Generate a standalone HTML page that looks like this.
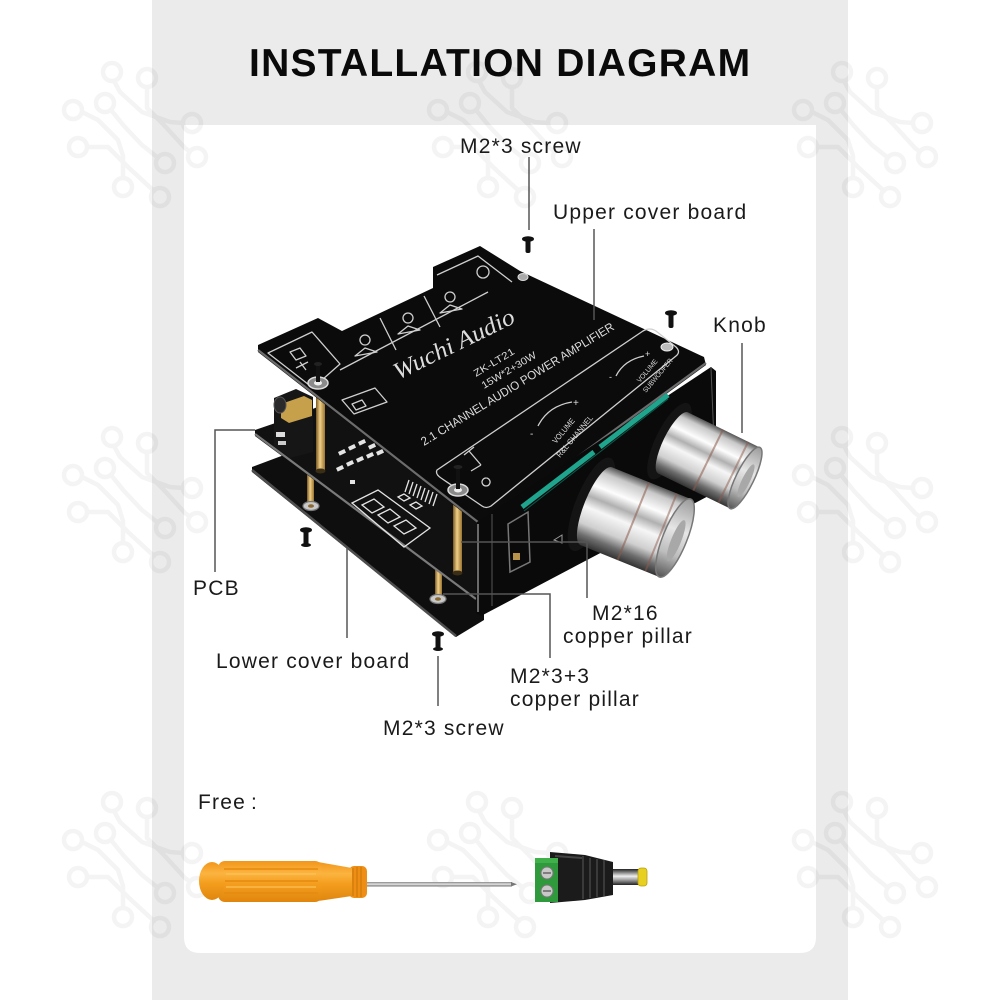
<!DOCTYPE html>
<html><head><meta charset="utf-8">
<style>
html,body{margin:0;padding:0;background:#fff;}
svg{display:block;}
</style></head>
<body>
<svg width="1000" height="1000" viewBox="0 0 1000 1000" xmlns="http://www.w3.org/2000/svg" font-family="'Liberation Sans', sans-serif">
<defs>
  <g id="circ">
    <g fill="none" stroke="#000" stroke-width="4.5" stroke-linejoin="round" stroke-linecap="round">
      <circle cx="52" cy="12" r="9"/><circle cx="87" cy="18" r="9"/><circle cx="45" cy="43" r="9"/>
      <circle cx="13" cy="50" r="9"/><circle cx="132" cy="63" r="9"/><circle cx="18" cy="87" r="9"/>
      <circle cx="137" cy="97" r="9"/><circle cx="105" cy="103" r="9"/><circle cx="63" cy="127" r="9"/>
      <circle cx="100" cy="137" r="9"/>
      <path d="M54,21 L60,32 L82,52 L110,62 L123,63"/>
      <path d="M87,27 L87,48 L103,64 L125,88 L129,91"/>
      <path d="M51,50 L64,66 L82,85 L97,97"/>
      <path d="M22,52 L38,60 L58,80 L63,96 L63,118"/>
      <path d="M27,87 L48,87 L68,107 L94,131"/>
    </g>
  </g>
  <linearGradient id="chrome" x1="0" y1="0" x2="0" y2="1">
    <stop offset="0" stop-color="#555"/>
    <stop offset="0.1" stop-color="#c8c8c8"/>
    <stop offset="0.28" stop-color="#fdfdfd"/>
    <stop offset="0.42" stop-color="#b0b0b0"/>
    <stop offset="0.55" stop-color="#f6f6f6"/>
    <stop offset="0.75" stop-color="#cfcfcf"/>
    <stop offset="0.88" stop-color="#6d6d6d"/>
    <stop offset="1" stop-color="#333"/>
  </linearGradient>
  <linearGradient id="face" x1="0" y1="0" x2="0" y2="1">
    <stop offset="0" stop-color="#9a9a9a"/>
    <stop offset="0.4" stop-color="#e6e6e6"/>
    <stop offset="0.7" stop-color="#bdbdbd"/>
    <stop offset="1" stop-color="#555"/>
  </linearGradient>
  <linearGradient id="gold" x1="0" y1="0" x2="1" y2="0">
    <stop offset="0" stop-color="#7a5a22"/>
    <stop offset="0.45" stop-color="#f0d088"/>
    <stop offset="1" stop-color="#9a7430"/>
  </linearGradient>
  <linearGradient id="orange" x1="0" y1="0" x2="0" y2="1">
    <stop offset="0" stop-color="#f2961a"/>
    <stop offset="0.3" stop-color="#fbb440"/>
    <stop offset="0.55" stop-color="#f49e1e"/>
    <stop offset="1" stop-color="#e0860e"/>
  </linearGradient>
  <linearGradient id="shaft" x1="0" y1="0" x2="0" y2="1">
    <stop offset="0" stop-color="#888"/>
    <stop offset="0.5" stop-color="#e2e2e2"/>
    <stop offset="1" stop-color="#6a6a6a"/>
  </linearGradient>
  <linearGradient id="barrel" x1="0" y1="0" x2="0" y2="1">
    <stop offset="0" stop-color="#222"/>
    <stop offset="0.45" stop-color="#eee"/>
    <stop offset="0.7" stop-color="#999"/>
    <stop offset="1" stop-color="#222"/>
  </linearGradient>
</defs>

<!-- backgrounds -->
<rect width="1000" height="1000" fill="#fff"/>
<rect x="152" y="0" width="696" height="1000" fill="#ebebeb"/>
<path d="M184,125 H816 V937 Q816,953 800,953 H200 Q184,953 184,937 Z" fill="#fff"/>

<!-- circuit watermark -->
<g opacity="0.045">
  <use href="#circ" x="60" y="60"/><use href="#circ" x="425" y="60"/><use href="#circ" x="790" y="60"/>
  <use href="#circ" x="60" y="425"/><use href="#circ" x="425" y="425"/><use href="#circ" x="790" y="425"/>
  <use href="#circ" x="60" y="790"/><use href="#circ" x="425" y="790"/><use href="#circ" x="790" y="790"/>
</g>

<!-- title -->
<text x="249" y="76" font-size="39" font-weight="bold" letter-spacing="1.25" fill="#0a0a0a">INSTALLATION DIAGRAM</text>

<!-- ===== lower cover board ===== -->
<polygon points="252,467 292,452 335,432 484,552 484,620 456,637 252,472" fill="#0e0e0e"/>
<line x1="252" y1="470" x2="456" y2="636" stroke="#4e4e4e" stroke-width="2.5"/>

<!-- short pillars -->
<rect x="307" y="468" width="7" height="36" fill="url(#gold)"/>
<ellipse cx="311" cy="506" rx="8" ry="4.5" fill="#c9c9c9" stroke="#777" stroke-width="1.2"/>
<ellipse cx="311" cy="506" rx="3" ry="1.8" fill="#8a6a30"/>
<rect x="435" y="562" width="7" height="35" fill="url(#gold)"/>
<ellipse cx="438" cy="599" rx="8" ry="4.5" fill="#c9c9c9" stroke="#777" stroke-width="1.2"/>
<ellipse cx="438" cy="599" rx="3" ry="1.8" fill="#8a6a30"/>

<!-- ===== PCB ===== -->
<polygon points="255,430 290,418 335,400 482,510 482,598 476,600 255,436" fill="#111"/>
<line x1="255" y1="434" x2="476" y2="599" stroke="#7a7a7a" stroke-width="2.2"/>
<g fill="#e4e4e4">
  <rect x="338" y="452" width="7" height="4" transform="rotate(-25 338 452)"/>
  <rect x="348" y="447" width="7" height="4" transform="rotate(-25 348 447)"/>
  <rect x="358" y="442" width="7" height="4" transform="rotate(-25 358 442)"/>
  <rect x="368" y="446" width="7" height="4" transform="rotate(-25 368 446)"/>
  <rect x="336" y="468" width="7" height="4" transform="rotate(-25 336 468)"/>
  <rect x="346" y="463" width="7" height="4" transform="rotate(-25 346 463)"/>
  <rect x="356" y="459" width="7" height="4" transform="rotate(-25 356 459)"/>
  <rect x="366" y="455" width="7" height="4" transform="rotate(-25 366 455)"/>
  <rect x="376" y="452" width="7" height="4" transform="rotate(-25 376 452)"/>
  <rect x="350" y="480" width="5" height="4"/>
</g>
<g stroke="#e4e4e4" stroke-width="1.3" fill="none">
  <path d="M405,492 l4,-12 M409,494 l4,-12 M413,496 l4,-12 M417,498 l4,-12 M421,500 l4,-12 M425,502 l4,-12 M429,504 l4,-12 M433,506 l4,-12"/>
  <path d="M352,503 L378,490 L430,528 L404,547 Z"/>
  <path d="M362,505 L374,499 L384,507 L372,513 Z M378,515 L390,509 L400,517 L388,523 Z M394,526 L406,520 L416,528 L404,534 Z"/>
  <path d="M398,497 l6,-3 l6,4 l-6,3 Z M410,505 l6,-3 l6,4 l-6,3 Z"/>
</g>
<!-- audio jack -->
<polygon points="274,398 296,389 313,397 313,452 290,458 274,446" fill="#161616"/>
<polygon points="281,404 304,396 312,400 312,416 289,423 281,418" fill="#c7a04c"/>
<ellipse cx="280" cy="405" rx="6" ry="8" fill="#2a2a2a" stroke="#555"/>
<rect x="276" y="432" width="9" height="5" fill="#ddd"/>
<rect x="278" y="441" width="8" height="4" fill="#ccc"/>

<!-- tall pillars -->
<rect x="316" y="380" width="9" height="91" fill="url(#gold)"/>
<ellipse cx="320.5" cy="471" rx="5" ry="2.5" fill="#3a2e16"/>
<rect x="453" y="495" width="9" height="78" fill="url(#gold)"/>
<ellipse cx="457.5" cy="573" rx="5" ry="2.5" fill="#3a2e16"/>

<!-- ===== upper cover board ===== -->
<polygon points="258,345 318,318 342,331 433,288 433,267 480,246 520,271 704,357 706,365 483,528 258,352" fill="#0b0b0b"/>
<polyline points="258,350 483,526 706,363" fill="none" stroke="#6c6c6c" stroke-width="2.2"/>
<g fill="none" stroke="#cfcfcf" stroke-width="1.3" stroke-linejoin="round">
  <path d="M268,353 L312,332 L340,364 L313,388 Z"/>
  <path d="M290,352 l10,-4 l6,8 l-10,4 Z M300,362 l6,8 M296,368 l12,-6"/>
  <path d="M340,370 L488,292"/>
  <path d="M380,318 L396,350 M424,296 L440,327"/>
  <path d="M437,275 L478,256 L512,282"/>
  <circle cx="365" cy="340" r="5"/><path d="M355,356 l10,-8 l12,4 Z"/>
  <circle cx="408" cy="318" r="5"/><path d="M398,334 l10,-8 l12,4 Z"/>
  <circle cx="450" cy="297" r="5"/><path d="M440,313 l10,-8 l12,4 Z"/>
  <circle cx="483" cy="272" r="6"/>
  <path d="M342,400 L375,388 L387,402 L354,414 Z"/>
  <path d="M352,404 l10,-4 l4,6 l-10,4 Z"/>
  <path d="M437,470 L643,331 Q650,327 656,331 L676,347 Q681,352 676,356 L491,506 Q486,509 482,506 L441,478 Q435,474 437,470 Z"/>
  <path d="M464,455 l10,-8 M469,451 l12,14 M481,465 l-10,6 M486,478 a4,4 0 1,0 0.1,0"/>
  <path d="M538,426 Q548,406 572,402"/>
  <path d="M616,376 Q624,360 644,356"/>
</g>
<g fill="#dcdcdc">
  <text transform="translate(398,380) rotate(-26)" font-family="'Liberation Serif', serif" font-style="italic" font-size="24" textLength="132" lengthAdjust="spacingAndGlyphs">Wuchi Audio</text>
  <text transform="translate(476,377) rotate(-31)" font-size="10" textLength="46" lengthAdjust="spacingAndGlyphs">ZK-LT21</text>
  <text transform="translate(484,389) rotate(-31)" font-size="10" textLength="62" lengthAdjust="spacingAndGlyphs">15W*2+30W</text>
  <text transform="translate(424,446) rotate(-31.5)" font-size="12" textLength="224" lengthAdjust="spacingAndGlyphs">2.1 CHANNEL AUDIO POWER AMPLIFIER</text>
  <text transform="translate(556,444) rotate(-50)" font-size="8" textLength="30" lengthAdjust="spacingAndGlyphs">VOLUME</text>
  <text transform="translate(560,458) rotate(-50)" font-size="8" textLength="52" lengthAdjust="spacingAndGlyphs">R&amp;L CHANNEL</text>
  <text transform="translate(640,383) rotate(-50)" font-size="7" textLength="28" lengthAdjust="spacingAndGlyphs">VOLUME</text>
  <text transform="translate(646,393) rotate(-50)" font-size="7" textLength="42" lengthAdjust="spacingAndGlyphs">SUBWOOFER</text>
  <text x="530" y="437" font-size="10">-</text><text x="573" y="406" font-size="10">+</text>
  <text x="609" y="380" font-size="9">-</text><text x="645" y="357" font-size="9">+</text>
</g>
<ellipse cx="318" cy="383" rx="10" ry="6" fill="#8a8a8a" stroke="#ddd" stroke-width="1.5"/>
<ellipse cx="318" cy="383" rx="4" ry="2.5" fill="#eee"/>
<rect x="316" y="364" width="4" height="18" fill="#111"/><ellipse cx="318" cy="364" rx="4" ry="2" fill="#222"/>
<ellipse cx="458" cy="490" rx="10" ry="6" fill="#8a8a8a" stroke="#ddd" stroke-width="1.5"/>
<ellipse cx="458" cy="490" rx="4" ry="2.5" fill="#eee"/>
<rect x="456" y="467" width="4" height="22" fill="#111"/><ellipse cx="458" cy="467" rx="4.5" ry="2" fill="#222"/>
<ellipse cx="667" cy="347" rx="6" ry="4" fill="#bbb" stroke="#eee"/>
<ellipse cx="523" cy="277" rx="5" ry="3.5" fill="#aaa" stroke="#ddd"/>

<!-- ===== front panel ===== -->
<polygon points="477,522 711,367 716,371 716,492 481,616 476,613" fill="#0a0a0a"/>
<line x1="478" y1="524" x2="478" y2="612" stroke="#8a8a8a" stroke-width="1.5"/>
<line x1="492" y1="514" x2="492" y2="606" stroke="#4a4a4a" stroke-width="1.2"/>
<line x1="711" y1="368" x2="716" y2="490" stroke="#555" stroke-width="1"/>
<path d="M508,524 L528,512 L530,562 L510,572 Z" fill="none" stroke="#777" stroke-width="1.5"/>
<rect x="513" y="553" width="7" height="7" fill="#b8944a"/>
<path d="M554,540 l8,-5 l0,8 Z" fill="none" stroke="#999"/>
<line x1="522" y1="507" x2="594" y2="452" stroke="#1fa58e" stroke-width="5"/>
<line x1="600" y1="447" x2="668" y2="395" stroke="#1fa58e" stroke-width="5"/>
<line x1="524" y1="511" x2="668" y2="399" stroke="#0e5a4c" stroke-width="1"/>

<!-- ===== knobs ===== -->
<g transform="translate(745,478) rotate(26)">
  <ellipse cx="-84" cy="0" rx="14" ry="42" fill="#141414"/>
  <rect x="-80" y="-34" width="80" height="68" fill="url(#chrome)"/>
  <ellipse cx="-80" cy="0" rx="10" ry="34" fill="url(#chrome)"/>
  <rect x="-42" y="-34" width="2" height="68" fill="#8b5a4a" opacity="0.55"/>
  <rect x="-14" y="-34" width="2" height="68" fill="#8b5a4a" opacity="0.5"/>
  <ellipse cx="0" cy="0" rx="9" ry="34" fill="url(#face)" stroke="#777" stroke-width="1.5"/>
  <ellipse cx="2" cy="2" rx="4" ry="18" fill="#a8a8a8"/>
</g>
<g transform="translate(675,538) rotate(22)">
  <ellipse cx="-90" cy="0" rx="16" ry="50" fill="#141414"/>
  <rect x="-85" y="-42" width="85" height="84" fill="url(#chrome)"/>
  <ellipse cx="-85" cy="0" rx="12" ry="42" fill="url(#chrome)"/>
  <rect x="-46" y="-42" width="2" height="84" fill="#8b5a4a" opacity="0.55"/>
  <rect x="-16" y="-42" width="2" height="84" fill="#8b5a4a" opacity="0.5"/>
  <ellipse cx="0" cy="0" rx="12" ry="42" fill="url(#face)" stroke="#777" stroke-width="1.5"/>
  <ellipse cx="2" cy="2" rx="5" ry="22" fill="#a8a8a8"/>
</g>

<!-- loose screws -->
<g fill="#111">
  <ellipse cx="528" cy="239" rx="6" ry="2.8"/><rect x="525.5" y="239" width="5" height="14" rx="2"/>
  <ellipse cx="671" cy="313" rx="6" ry="2.8"/><rect x="668.5" y="313" width="5" height="15" rx="2"/>
  <ellipse cx="306" cy="530" rx="6" ry="2.8"/><rect x="303.5" y="530" width="5" height="15" rx="2"/>
  <ellipse cx="306" cy="545" rx="5" ry="2"/>
  <ellipse cx="438" cy="634" rx="6" ry="2.8"/><rect x="435.5" y="634" width="5" height="15" rx="2"/>
  <ellipse cx="438" cy="649" rx="5" ry="2"/>
</g>

<!-- ===== connector lines ===== -->
<g stroke="#555" stroke-width="1.5" fill="none">
  <line x1="529" y1="157" x2="529" y2="230"/>
  <line x1="594" y1="229" x2="594" y2="320"/>
  <line x1="742" y1="343" x2="742" y2="433"/>
  <polyline points="255,430 215,430 215,572"/>
  <line x1="347" y1="548" x2="347" y2="638"/>
  <line x1="438" y1="656" x2="438" y2="706"/>
  <polyline points="461,542 587,542 587,598"/>
  <polyline points="443,594 550,594 550,658"/>
</g>

<!-- ===== labels ===== -->
<g font-size="21" letter-spacing="1.2" fill="#1a1a1a">
  <text x="460" y="153">M2*3 screw</text>
  <text x="553" y="219">Upper cover board</text>
  <text x="713" y="332">Knob</text>
  <text x="193" y="595">PCB</text>
  <text x="216" y="668">Lower cover board</text>
  <text x="592" y="620">M2*16</text>
  <text x="563" y="643">copper pillar</text>
  <text x="510" y="683">M2*3+3</text>
  <text x="510" y="706">copper pillar</text>
  <text x="383" y="735">M2*3 screw</text>
  <text x="198" y="809">Free<tspan dx="5">:</tspan></text>
</g>

<!-- ===== screwdriver ===== -->
<rect x="364" y="882" width="148" height="4.5" fill="url(#shaft)"/>
<polygon points="511,882 517,884.2 511,886.5" fill="#777"/>
<rect x="349" y="866" width="18" height="32" rx="5" fill="#ee8e14"/>
<g stroke="#c87408" stroke-width="1"><line x1="353" y1="868" x2="353" y2="896"/><line x1="357" y1="867" x2="357" y2="897"/><line x1="361" y1="867" x2="361" y2="897"/></g>
<polygon points="318,862 352,868 352,896 318,901" fill="url(#orange)"/>
<rect x="218" y="861" width="104" height="41" rx="7" fill="url(#orange)"/>
<g stroke="#e58a0e" stroke-width="1.5"><line x1="224" y1="869" x2="318" y2="869"/><line x1="224" y1="881" x2="318" y2="881"/><line x1="224" y1="893" x2="318" y2="893"/></g>
<g stroke="#fcc45a" stroke-width="1.5" opacity="0.8"><line x1="226" y1="874" x2="316" y2="874"/><line x1="226" y1="887" x2="316" y2="887"/></g>
<ellipse cx="212" cy="881" rx="13" ry="19" fill="url(#orange)"/>

<!-- ===== DC connector ===== -->
<rect x="610" y="869" width="32" height="16" fill="url(#barrel)"/>
<rect x="638" y="868" width="9" height="18" rx="3" fill="#e8d020" stroke="#b8a010" stroke-width="0.8"/>
<polygon points="550,852 585,855 613,862 613,895 585,900 550,903" fill="#1b1b1b"/>
<g stroke="#3a3a3a" stroke-width="2"><line x1="590" y1="858" x2="590" y2="898"/><line x1="597" y1="859" x2="597" y2="897"/><line x1="604" y1="860" x2="604" y2="896"/><line x1="583" y1="856" x2="583" y2="899"/></g>
<line x1="555" y1="856" x2="582" y2="858" stroke="#444" stroke-width="2"/>
<rect x="535" y="858" width="23" height="44" fill="#2f9a3c"/>
<rect x="535" y="858" width="23" height="5" fill="#3fb04a"/>
<circle cx="547" cy="873" r="6" fill="#c8c8c8" stroke="#777"/>
<line x1="543" y1="873" x2="551" y2="873" stroke="#666" stroke-width="1.5"/>
<circle cx="547" cy="891" r="6" fill="#c8c8c8" stroke="#777"/>
<line x1="543" y1="891" x2="551" y2="891" stroke="#666" stroke-width="1.5"/>
</svg>
</body></html>
